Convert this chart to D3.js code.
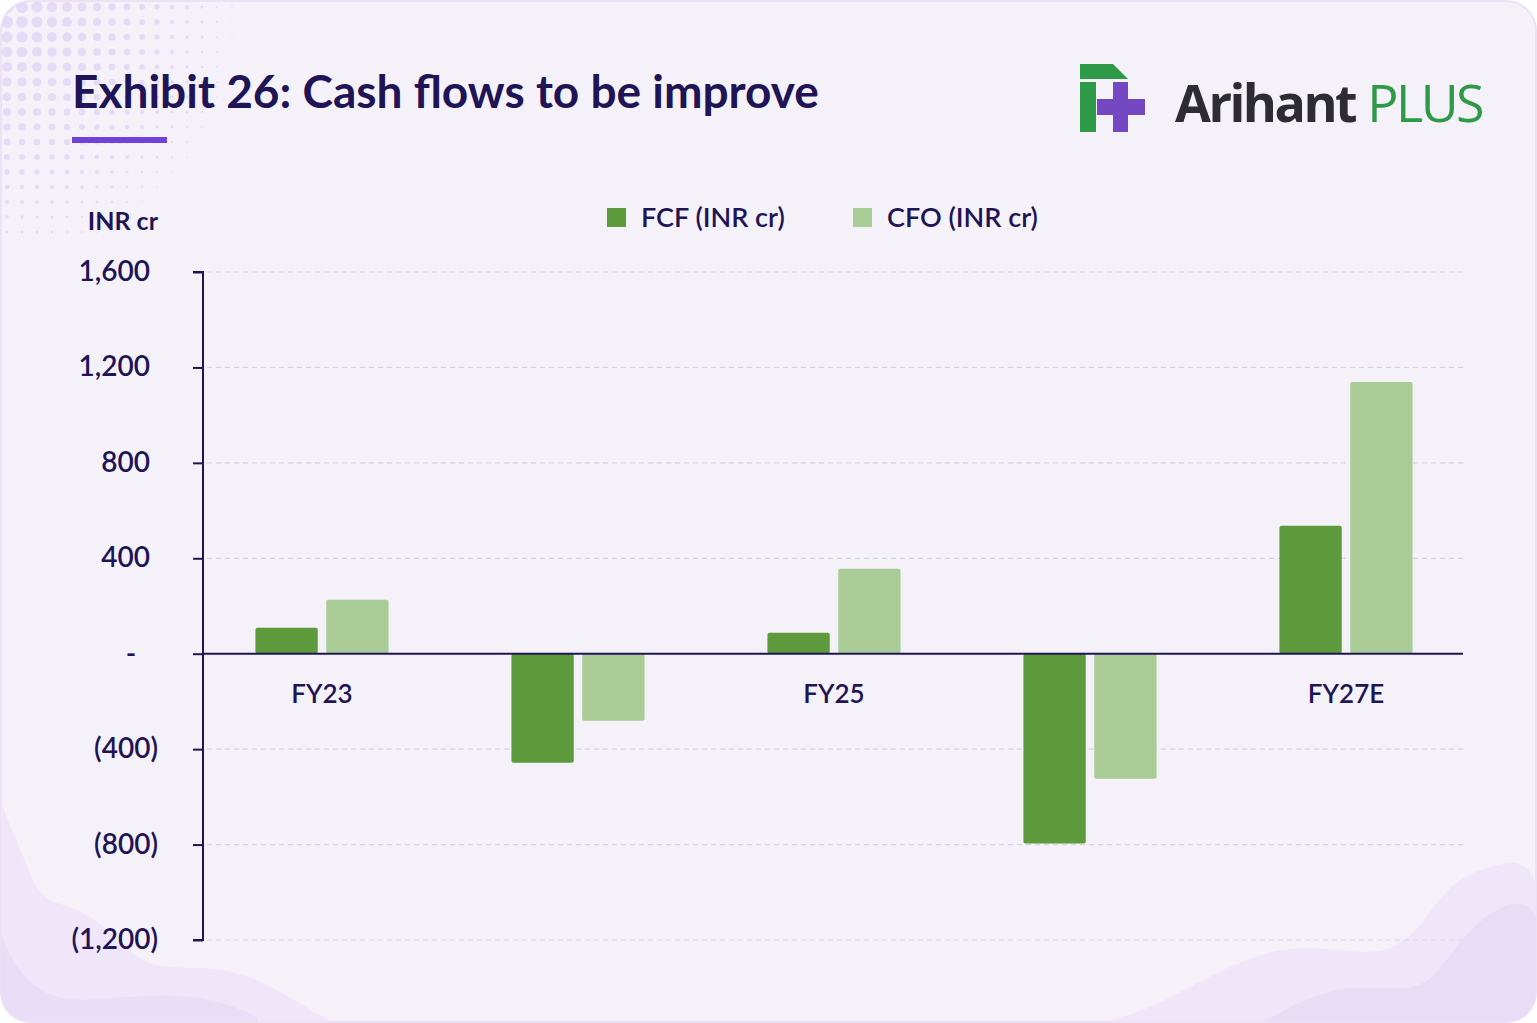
<!DOCTYPE html>
<html>
<head>
<meta charset="utf-8">
<script src="https://cdn.jsdelivr.net/npm/d3@7"></script>
<style>
  body { margin: 0; background: #ffffff; }
</style>
</head>
<body>
<div id="chart"></div>
<script>

// Data
var categories = ['FY23', 'FY24', 'FY25', 'FY26E', 'FY27E'];
var shownLabels = ['FY23', 'FY25', 'FY27E'];
var seriesNames = ['FCF (INR cr)', 'CFO (INR cr)'];
var fcfValues = [109, -457, 88, -796, 536];
var cfoValues = [226, -281, 356, -524, 1139];
var yTicks = [1600, 1200, 800, 400, 0, -400, -800, -1200];

var attrs = {
  svgWidth: 1537,
  svgHeight: 1023,
  cardColor: '#f5f1f9',
  navy: '#1e1456',
  fcfColor: '#5c9a3c',
  cfoColor: '#a9cc97',
  gridColor: '#d9d1e6',
  font: 'Lato, "Open Sans", sans-serif'
};

var svg = d3.select('#chart').append('svg')
  .attr('width', attrs.svgWidth)
  .attr('height', attrs.svgHeight)
  .attr('font-family', attrs.font);

//card background
svg.append('rect')
  .attr('x', 1).attr('y', 1)
  .attr('width', attrs.svgWidth - 2).attr('height', attrs.svgHeight - 2)
  .attr('rx', 30)
  .attr('fill', attrs.cardColor)
  .attr('stroke', '#ebe2f6')
  .attr('stroke-width', 2);

svg.append('clipPath').attr('id', 'card-clip')
  .append('rect')
  .attr('x', 1).attr('y', 1)
  .attr('width', attrs.svgWidth - 2).attr('height', attrs.svgHeight - 2)
  .attr('rx', 30);

var deco = svg.append('g').attr('clip-path', 'url(#card-clip)');

//dotted corner pattern
var dots = [];
for (var r = 0; r < 16; r++) {
  for (var c = 0; c < 28; c++) {
    var cx = 7 + c * 15, cy = 7 + r * 15;
    var d = Math.sqrt(Math.pow(cx * 1.05, 2) + Math.pow(cy * 0.95, 2));
    var rad = 6.6 - d / 42;
    if (rad > 0.7) dots.push({ x: cx, y: cy, r: rad });
  }
}
deco.selectAll('.dot').data(dots).enter().append('circle')
  .attr('class', 'dot')
  .attr('cx', d => d.x).attr('cy', d => d.y).attr('r', d => d.r)
  .attr('fill', '#e6dbf7');

//bottom waves
var line = d3.line().curve(d3.curveBasis);
var waveLeftLight = [[0, 790], [0, 803], [25, 860], [40, 900], [70, 905], [105, 925], [140, 965], [180, 968], [230, 968], [280, 990], [330, 1023], [360, 1030], [0, 1030]];
var waveLeftDark = [[0, 930], [10, 960], [40, 995], [80, 1002], [140, 995], [200, 995], [250, 1012], [280, 1030], [0, 1030]];
var waveRightLight = [[1080, 1030], [1150, 1010], [1210, 975], [1280, 945], [1340, 950], [1385, 955], [1420, 930], [1450, 880], [1500, 862], [1545, 860], [1545, 1030]];
var waveRightDark = [[1250, 1030], [1300, 1000], [1350, 985], [1400, 990], [1430, 985], [1460, 940], [1490, 910], [1545, 890], [1545, 1030]];

[[waveLeftLight, '#efe6f9'], [waveLeftDark, '#e9def7'], [waveRightLight, '#efe6f9'], [waveRightDark, '#e8ddf7']].forEach(function (w) {
  deco.append('path').attr('d', line(w[0]) + 'Z').attr('fill', w[1]);
});

//title
svg.append('text')
  .attr('x', 72).attr('y', 108)
  .attr('font-size', 46).attr('font-weight', 700)
  .attr('fill', attrs.navy)
  .text('Exhibit 26: Cash flows to be improve');

svg.append('rect')
  .attr('x', 72).attr('y', 137).attr('width', 95).attr('height', 6)
  .attr('fill', '#6f42d8');

//logo
var logo = svg.append('g');
logo.append('path').attr('d', 'M1080,64 L1113,64 L1128,79 L1080,79 Z').attr('fill', '#2e9a48');
logo.append('rect').attr('x', 1080).attr('y', 82).attr('width', 16).attr('height', 50).attr('fill', '#2e9a48');
logo.append('path')
  .attr('d', 'M1113,82 L1128,82 L1128,99 L1145,99 L1145,115 L1128,115 L1128,132 L1113,132 L1113,115 L1097,115 L1097,99 L1113,99 Z')
  .attr('fill', '#7348c2');
var logoText = logo.append('text')
  .attr('x', 1175).attr('y', 122)
  .attr('font-size', 52).attr('font-weight', 700)
  .attr('font-family', '"Open Sans", sans-serif')
  .attr('letter-spacing', -2.5);
logoText.append('tspan').attr('fill', '#2d2c33').text('Arihant');
logoText.append('tspan').attr('fill', '#2e9a48').attr('font-weight', 500).attr('dx', 12).text('PLUS');

//#########################  SCALES  ########################
var margin = { left: 203, right: 1463, top: 272, bottom: 940 };

var scales = {};
scales.y = d3.scaleLinear().domain([-1200, 1600]).range([margin.bottom, margin.top]);
scales.x0 = d3.scaleBand().domain(categories).range([194, 1474]).paddingInner(0.48).paddingOuter(0.24);
scales.x1 = d3.scaleBand().domain(seriesNames).range([0, scales.x0.bandwidth()]).paddingInner(0.12);
var colors = d3.scaleOrdinal().domain(seriesNames).range([attrs.fcfColor, attrs.cfoColor]);

//gridlines
svg.append('g').selectAll('line').data(yTicks.filter(d => d !== 0)).enter().append('line')
  .attr('x1', margin.left + 4).attr('x2', margin.right)
  .attr('y1', d => scales.y(d)).attr('y2', d => scales.y(d))
  .attr('stroke', attrs.gridColor).attr('stroke-width', 1.2)
  .attr('stroke-dasharray', '5,4');

//bars
var rows = categories.map(function (c, i) {
  return { cat: c, vals: [{ key: seriesNames[0], v: fcfValues[i] }, { key: seriesNames[1], v: cfoValues[i] }] };
});

var groups = svg.append('g').selectAll('.bar-group').data(rows).enter().append('g')
  .attr('class', 'bar-group')
  .attr('transform', d => 'translate(' + scales.x0(d.cat) + ',0)');

groups.selectAll('rect').data(d => d.vals).enter().append('rect')
  .attr('x', d => scales.x1(d.key))
  .attr('width', scales.x1.bandwidth())
  .attr('y', d => scales.y(Math.max(0, d.v)))
  .attr('height', d => Math.abs(scales.y(d.v) - scales.y(0)))
  .attr('rx', 2)
  .attr('fill', d => colors(d.key));

//###########################  AXES  ########################
var yAxis = d3.axisLeft(scales.y).tickValues(yTicks).tickSize(10).tickFormat('');
var yAxisG = svg.append('g')
  .attr('transform', 'translate(' + margin.left + ',0)')
  .call(yAxis);
yAxisG.select('.domain').attr('stroke', attrs.navy).attr('stroke-width', 2)
  .attr('d', 'M-10,' + scales.y(1600) + 'H0V' + scales.y(-1200) + 'H-10');
yAxisG.selectAll('.tick line').attr('stroke', attrs.navy).attr('stroke-width', 2);

//tick labels
svg.append('g').selectAll('text').data(yTicks).enter().append('text')
  .attr('x', d => d < 0 ? 158 : (d === 0 ? 131 : 150))
  .attr('y', d => scales.y(d) + 9)
  .attr('text-anchor', d => d === 0 ? 'middle' : 'end')
  .attr('font-size', 28).attr('font-weight', 600)
  .attr('fill', attrs.navy)
  .text(function (d) {
    if (d === 0) return '-';
    var s = d3.format(',')(Math.abs(d));
    return d < 0 ? '(' + s + ')' : s;
  });

svg.append('text')
  .attr('x', 158).attr('y', 230)
  .attr('text-anchor', 'end')
  .attr('font-size', 25).attr('font-weight', 700)
  .attr('fill', attrs.navy)
  .text('INR cr');

//zero line
svg.append('line')
  .attr('x1', margin.left).attr('x2', margin.right)
  .attr('y1', scales.y(0)).attr('y2', scales.y(0))
  .attr('stroke', attrs.navy).attr('stroke-width', 2);

//x labels (every other category)
svg.append('g').selectAll('text').data(categories).enter().append('text')
  .attr('x', d => scales.x0(d) + scales.x0.bandwidth() / 2)
  .attr('y', scales.y(0) + 49)
  .attr('text-anchor', 'middle')
  .attr('font-size', 26).attr('font-weight', 600)
  .attr('fill', attrs.navy)
  .attr('display', d => shownLabels.indexOf(d) >= 0 ? null : 'none')
  .text(d => d);

//legend
var legend = svg.append('g').selectAll('.legend-item').data(seriesNames).enter().append('g')
  .attr('class', 'legend-item')
  .attr('transform', (d, i) => 'translate(' + (607 + i * 246) + ',208)');
legend.append('rect').attr('width', 19).attr('height', 19).attr('fill', d => colors(d));
legend.append('text')
  .attr('x', 34).attr('y', 19)
  .attr('font-size', 27).attr('font-weight', 600)
  .attr('fill', attrs.navy)
  .text(d => d);

</script>
</body>
</html>
